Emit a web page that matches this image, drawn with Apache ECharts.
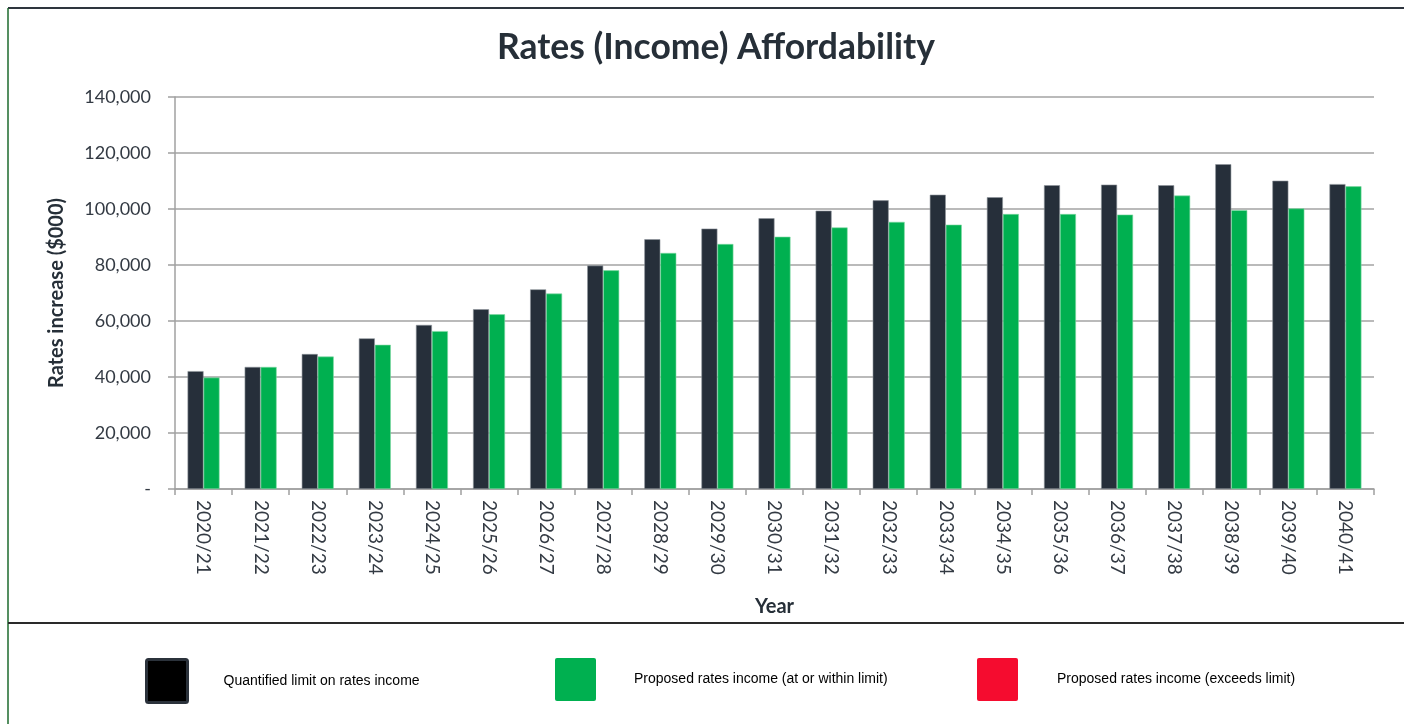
<!DOCTYPE html>
<html>
<head>
<meta charset="utf-8">
<title>Rates (Income) Affordability</title>
<script src="https://cdn.jsdelivr.net/npm/echarts@6/dist/echarts.min.js"></script>
<style>
  html, body { margin: 0; padding: 0; background: #ffffff; }
  #chart { width: 1404px; height: 724px; }
</style>
</head>
<body>
<div id="chart"></div>
<script>
// Financial years on the category axis
const years = ['2020/21', '2021/22', '2022/23', '2023/24', '2024/25', '2025/26', '2026/27',
  '2027/28', '2028/29', '2029/30', '2030/31', '2031/32', '2032/33', '2033/34', '2034/35',
  '2035/36', '2036/37', '2037/38', '2038/39', '2039/40', '2040/41'];

// Quantified limit on rates income ($000)
const limitValues = [42100, 43600, 48200, 53800, 58600, 64200, 71300, 79800, 89200, 93000,
  96700, 99400, 103100, 105100, 104200, 108500, 108700, 108500, 116000, 110100, 108900];

// Proposed rates income ($000)
const proposedValues = [39800, 43600, 47300, 51500, 56400, 62400, 69800, 78100, 84300, 87500,
  90100, 93400, 95400, 94400, 98200, 98200, 98000, 104800, 99600, 100200, 108100];

// Y axis ticks
const yTicks = [0, 20000, 40000, 60000, 80000, 100000, 120000, 140000];

const seriesNames = [
  'Quantified limit on rates income',
  'Proposed rates income (at or within limit)',
  'Proposed rates income (exceeds limit)'
];

const colors = { limit: '#262f3a', within: '#00b050', exceeds: '#f50c2f' };

// Split proposed income by whether it stays within the limit
const withinValues = proposedValues.map((v, i) => (v <= limitValues[i] ? v : null));
const exceedsValues = proposedValues.map((v, i) => (v > limitValues[i] ? v : null));

const FONT = 'Lato, "Open Sans", sans-serif';
const LEGEND_FONT = '"Liberation Sans", Arial, sans-serif';

// Slightly rounded square used for the legend keys
const KEY_ICON = 'path://M2,0 L39,0 Q41,0 41,2 L41,41 Q41,43 39,43 L2,43 Q0,43 0,41 L0,2 Q0,0 2,0 Z';

function legendAt(left, name, itemStyle, textGap) {
  return {
    show: true,
    data: [name],
    left: left,
    top: 658,
    padding: 0,
    orient: 'horizontal',
    icon: KEY_ICON,
    itemWidth: 41,
    itemHeight: 43,
    selectedMode: false,
    itemStyle: itemStyle,
    textStyle: {
      fontFamily: LEGEND_FONT,
      fontSize: 14,
      color: '#000000',
      padding: [10, 0, 0, textGap]
    }
  };
}

const chart = echarts.init(document.getElementById('chart'), null, { renderer: 'canvas' });

chart.setOption({
  backgroundColor: '#ffffff',
  animation: false,
  title: {
    text: 'Rates (Income) Affordability',
    left: 497,
    top: 30,
    padding: 0,
    textStyle: {
      fontFamily: FONT,
      fontWeight: 'bold',
      fontSize: 35.5,
      color: '#262f38'
    }
  },
  legend: [
    legendAt(145, seriesNames[0], { color: '#000000', borderColor: '#2b323b', borderWidth: 3 }, 31),
    legendAt(555, seriesNames[1], { color: colors.within, borderWidth: 0 }, 33),
    legendAt(977, seriesNames[2], { color: colors.exceeds, borderWidth: 0 }, 34)
  ],
  grid: {
    left: 175,
    right: 30,
    top: 97,
    bottom: 235,
    containLabel: false
  },
  xAxis: {
    type: 'category',
    data: years,
    name: 'Year',
    nameLocation: 'middle',
    nameGap: 108,
    nameTextStyle: {
      fontFamily: FONT,
      fontWeight: 'bold',
      fontSize: 20,
      color: '#262f38'
    },
    axisLine: { show: true, lineStyle: { color: '#a0a0a0', width: 1.5 } },
    axisTick: { show: true, alignWithLabel: false, length: 6, lineStyle: { color: '#a0a0a0', width: 1.5 } },
    axisLabel: {
      rotate: -90,
      margin: 11,
      interval: 0,
      fontFamily: FONT,
      fontSize: 19,
      color: '#333a43'
    },
    splitLine: { show: false }
  },
  yAxis: {
    type: 'value',
    min: yTicks[0],
    max: yTicks[yTicks.length - 1],
    interval: yTicks[1] - yTicks[0],
    name: 'Rates increase ($000)',
    nameLocation: 'middle',
    nameGap: 108,
    nameTextStyle: {
      fontFamily: FONT,
      fontWeight: 'bold',
      fontSize: 20,
      color: '#262f38'
    },
    axisLine: { show: true, lineStyle: { color: '#a0a0a0', width: 1.5 } },
    axisTick: { show: true, inside: false, length: 7, lineStyle: { color: '#a0a0a0', width: 1.5 } },
    axisLabel: {
      margin: 24,
      fontFamily: FONT,
      fontSize: 18,
      color: '#333a43',
      formatter: function (v) {
        return v === 0 ? '-' : v.toLocaleString('en-US');
      }
    },
    splitLine: { show: true, lineStyle: { color: '#a3a3a3', width: 1.5 } }
  },
  series: [
    {
      name: seriesNames[0],
      type: 'bar',
      data: limitValues,
      barGap: '0%',
      barCategoryGap: '44%',
      itemStyle: { color: colors.limit, borderColor: '#8d939b', borderWidth: 0.6 }
    },
    {
      name: seriesNames[1],
      type: 'bar',
      stack: 'proposed',
      data: withinValues,
      barGap: '0%',
      barCategoryGap: '44%',
      itemStyle: { color: colors.within, borderColor: '#7fd8a3', borderWidth: 0.6 }
    },
    {
      name: seriesNames[2],
      type: 'bar',
      stack: 'proposed',
      data: exceedsValues,
      barGap: '0%',
      barCategoryGap: '44%',
      itemStyle: { color: colors.exceeds }
    }
  ],
  graphic: [
    // outer frame: top rule, left rule and the rule above the legend
    {
      type: 'line',
      shape: { x1: 8, y1: 8, x2: 1404, y2: 8 },
      style: { stroke: '#2e353e', lineWidth: 2 }
    },
    {
      type: 'line',
      shape: { x1: 8, y1: 8, x2: 8, y2: 724 },
      style: { stroke: '#1d6a2c', lineWidth: 1.5 }
    },
    {
      type: 'line',
      shape: { x1: 8, y1: 623, x2: 1404, y2: 623 },
      style: { stroke: '#2a2a2a', lineWidth: 2 }
    }
  ]
});
</script>
</body>
</html>
